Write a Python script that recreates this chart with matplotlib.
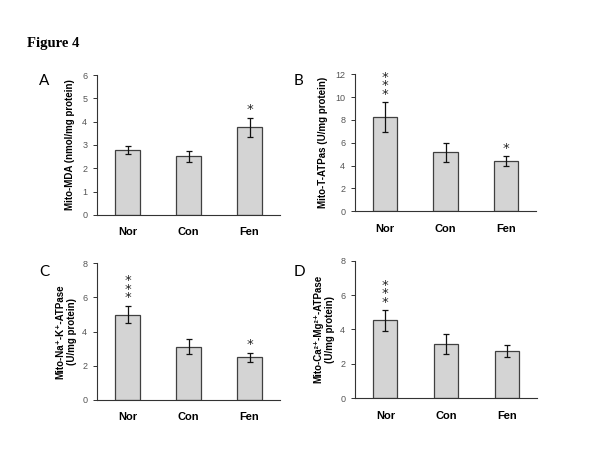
import matplotlib
matplotlib.use("Agg")
import matplotlib.pyplot as plt
import numpy as np

categories = ["Nor", "Con", "Fen"]

mda_vals = [2.78, 2.52, 3.76]
mda_err = [0.18, 0.24, 0.41]
mda_stars = ["", "", "*"]

tatp_vals = [8.23, 5.15, 4.38]
tatp_err = [1.32, 0.82, 0.44]
tatp_stars = ["*\n*\n*", "", "*"]

nak_vals = [4.99, 3.11, 2.48]
nak_err = [0.52, 0.45, 0.28]
nak_stars = ["*\n*\n*", "", "*"]

camg_vals = [4.53, 3.14, 2.74]
camg_err = [0.60, 0.59, 0.33]
camg_stars = ["*\n*\n*", "", ""]

panels = [
    dict(letter="A", vals=mda_vals, err=mda_err, stars=mda_stars, ymax=6, step=1,
         ylabel="Mito-MDA (nmol/mg protein)",
         rect=[0.1617, 0.5233, 0.305, 0.3104], letter_pos=(0.065, 0.835), labelpad=5),
    dict(letter="B", vals=tatp_vals, err=tatp_err, stars=tatp_stars, ymax=12, step=2,
         ylabel="Mito-T-ATPas (U/mg protein)",
         rect=[0.5917, 0.5315, 0.3017, 0.3038], letter_pos=(0.49, 0.835), labelpad=5),
    dict(letter="C", vals=nak_vals, err=nak_err, stars=nak_stars, ymax=8, step=2,
         ylabel="Mito-Na⁺-K⁺-ATPase\n(U/mg protein)",
         rect=[0.1617, 0.1137, 0.305, 0.3025], letter_pos=(0.065, 0.413), labelpad=4),
    dict(letter="D", vals=camg_vals, err=camg_err, stars=camg_stars, ymax=8, step=2,
         ylabel="Mito-Ca²⁺-Mg²⁺-ATPase\n(U/mg protein)",
         rect=[0.5917, 0.1175, 0.3033, 0.3044], letter_pos=(0.49, 0.413), labelpad=4),
]

fig = plt.figure(figsize=(6.0, 4.51), dpi=100)
fig.text(0.045, 0.895, "Figure 4", family="Liberation Serif", fontweight="bold",
         fontsize=10.5, ha="left", va="baseline")

tick_grey = "#555555"
for p in panels:
    ax = fig.add_axes(p["rect"])
    x = np.arange(len(categories))
    ax.bar(x, p["vals"], width=0.4, color="#d4d4d4", edgecolor="#404040", linewidth=0.9, zorder=2)
    ax.errorbar(x, p["vals"], yerr=p["err"], fmt="none", ecolor="#111111",
                elinewidth=0.9, capsize=2.5, capthick=0.9, zorder=3)
    for xi, v, e, s in zip(x, p["vals"], p["err"], p["stars"]):
        if s:
            ax.annotate(s, (xi, v + e), xytext=(0, 1), textcoords="offset points",
                        ha="center", va="bottom", fontsize=9.5, color="#222222",
                        linespacing=0.55)
    ax.set_xlim(-0.5, 2.5)
    ax.set_ylim(0, p["ymax"])
    ax.set_yticks(np.arange(0, p["ymax"] + 0.1, p["step"]))
    ax.set_xticks(x)
    ax.set_xticklabels(categories, fontweight="bold", fontsize=8, family="Liberation Sans")
    ax.tick_params(axis="x", length=0, pad=9)
    ax.tick_params(axis="y", length=3, width=0.7, labelsize=6.5, labelcolor=tick_grey,
                   color="#333333", pad=4)
    for lab in ax.get_yticklabels():
        lab.set_family("Liberation Sans")
    ax.spines["top"].set_visible(False)
    ax.spines["right"].set_visible(False)
    for side in ("left", "bottom"):
        ax.spines[side].set_color("#333333")
        ax.spines[side].set_linewidth(0.8)
    ax.set_ylabel(p["ylabel"], fontsize=7, fontweight="bold",
                  family=["Liberation Sans", "DejaVu Sans"],
                  labelpad=p["labelpad"], linespacing=1.1)
    fig.text(p["letter_pos"][0], p["letter_pos"][1], p["letter"], family="Lato",
             fontsize=11, ha="left", va="top")

fig.savefig("out.png", dpi=100)
